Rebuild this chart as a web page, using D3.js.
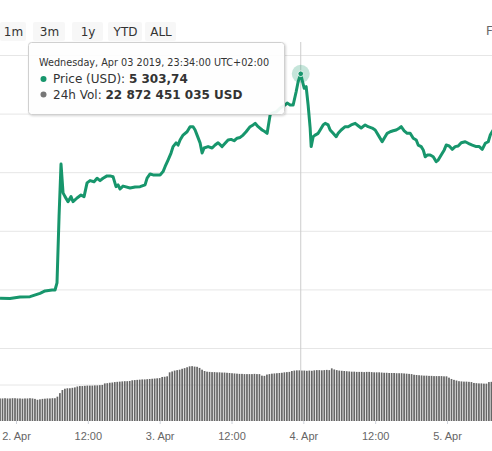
<!DOCTYPE html>
<meta charset="utf-8">
<head>
    <style>
        body { margin: 0; background: #fff; overflow: hidden; }
        svg { display: block; font-family: 'DejaVu Sans', Verdana, sans-serif; }
        .grid line { stroke: #e6e6e6; }
        .grid path { display: none; }
        .xaxis path { display: none; }
        .xaxis line { stroke: #ccd0d8; }
        .xaxis text { fill: #666; font-size: 11px; }
        .btn text { font-size: 12px; fill: #333; }
    </style>
</head>
<body>
    <svg width="492" height="451"></svg>

    <script src="https://d3js.org/d3.v7.min.js"></script>

    <script type="text/javascript">

        var svg = d3.select("svg");
        var width = 492, height = 451;

        // hours after 2 Apr 2019 00:00
        var priceHours = [-2.67, -1.0, 0.67, 2.34, 4.01, 4.85, 6.02, 6.52, 6.85, 7.19, 7.52, 7.86, 8.19, 8.69, 9.19, 9.53,
            10.2, 10.86, 11.37, 11.87, 12.37, 13.04, 13.54, 14.04, 14.54, 15.21, 15.71, 16.21, 16.71, 17.05, 17.38, 17.88,
            18.22, 19.05, 19.89, 20.73, 21.56, 21.9, 22.4, 22.9, 23.57, 24.07, 24.57, 24.9, 25.4, 25.9, 26.24, 26.74,
            27.08, 27.41, 27.91, 28.58, 29.08, 29.58, 29.92, 30.25, 30.75, 31.09, 31.42, 32.09, 32.76, 33.26, 33.76, 34.43,
            34.93, 35.43, 35.93, 36.44, 36.94, 37.44, 37.94, 38.44, 39.11, 39.61, 39.95, 40.45, 41.12, 41.62, 41.95, 42.45,
            42.79, 43.46, 44.13, 44.96, 45.3, 45.8, 46.3, 46.8, 47.13, 47.567, 47.8, 48.14, 48.47, 48.8, 49.14, 49.31,
            49.64, 49.97, 50.48, 50.81, 51.31, 51.65, 52.15, 52.48, 52.98, 53.49, 53.82, 54.32, 54.99, 55.49, 55.99, 56.66,
            57.16, 57.66, 58.33, 58.83, 59.5, 60.0, 60.67, 61.17, 61.51, 62.01, 62.51, 63.01, 63.51, 64.01, 64.35, 64.85,
            65.35, 65.85, 66.36, 66.86, 67.19, 67.69, 68.03, 68.36, 68.7, 69.2, 69.7, 70.2, 70.53, 71.03, 71.54, 71.87,
            72.37, 72.87, 73.37, 73.87, 74.38, 75.05, 75.55, 76.22, 76.89, 77.39, 77.89, 78.39, 78.89, 79.22, 79.72];

        var priceUsd = [4155, 4153, 4161, 4163, 4180, 4192, 4197, 4197, 4233, 4572, 4842, 4694, 4675, 4649, 4675, 4649,
            4668, 4683, 4675, 4745, 4757, 4751, 4769, 4757, 4769, 4781, 4781, 4777, 4726, 4735, 4714, 4729,
            4726, 4719, 4724, 4726, 4735, 4770, 4791, 4786, 4786, 4786, 4803, 4828, 4862, 4898, 4931, 4950,
            4939, 4965, 4990, 5007, 5033, 5033, 5016, 4990, 4950, 4898, 4924, 4931, 4924, 4939, 4951, 4931,
            4948, 4965, 4968, 4961, 4974, 4978, 4990, 5007, 5033, 5042, 5050, 5033, 5016, 5007, 4999, 5093,
            5102, 5108, 5129, 5144, 5154, 5144, 5144, 5212, 5263, 5303.74, 5272, 5230, 5238, 5144, 5026, 4931,
            4982, 4990, 4999, 5016, 5042, 5050, 5042, 5016, 4999, 4982, 4999, 5016, 5033, 5033, 5042, 5050,
            5038, 5026, 5042, 5033, 5026, 5016, 4982, 4956, 4974, 4999, 5007, 5012, 5016, 5025, 5033, 5012,
            4999, 4999, 4974, 4965, 4939, 4931, 4914, 4879, 4888, 4888, 4879, 4854, 4862, 4888, 4914, 4939,
            4934, 4917, 4931, 4934, 4951, 4956, 4948, 4939, 4931, 4931, 4917, 4948, 4956, 4990, 5016];

        // 24h volume, billions USD, one bar every 25 min from 1 Apr 21:20
        var volStepMin = 25;
        var volumeB = [10.2, 10.2, 10.3, 10.2, 10.2, 10.3, 10.3, 10.2, 10.2, 10.1, 10.2, 10.2, 10.3, 10.2, 10.0, 9.6,
            9.8, 10.0, 10.1, 10.2, 10.2, 10.3, 10.3, 11.0, 12.6, 14.0, 14.6, 14.8, 14.8, 15.0, 15.2, 15.6,
            15.8, 15.8, 15.9, 16.0, 16.0, 16.0, 16.1, 16.1, 16.2, 16.3, 17.0, 17.1, 17.3, 17.4, 17.6, 17.7,
            17.8, 17.9, 18.0, 18.0, 18.1, 18.4, 18.5, 18.6, 18.7, 18.8, 18.8, 18.9, 19.0, 19.1, 19.2, 19.3,
            19.4, 19.9, 20.0, 20.2, 22.0, 22.4, 22.8, 23.0, 23.2, 23.6, 23.9, 24.3, 24.7, 24.8, 24.6, 24.5,
            24.0, 23.2, 22.6, 22.3, 22.2, 22.1, 22.1, 22.0, 22.0, 21.9, 21.9, 21.8, 21.7, 21.6, 21.5, 21.4,
            21.3, 21.3, 21.2, 21.2, 21.2, 21.2, 21.3, 21.2, 21.2, 20.5, 20.4, 21.0, 21.2, 21.4, 21.5, 21.6,
            21.7, 21.8, 22.0, 22.1, 22.2, 22.6, 22.8, 22.9, 22.9, 22.8, 22.8, 22.7, 22.8, 22.7, 22.9, 23.0,
            23.0, 22.9, 23.0, 23.1, 23.0, 23.8, 23.3, 23.0, 22.8, 22.7, 22.6, 22.5, 22.4, 22.3, 22.3, 22.2,
            22.2, 22.2, 22.1, 22.2, 22.2, 22.1, 22.0, 22.0, 22.0, 21.9, 21.8, 21.8, 21.7, 21.7, 21.7, 21.6,
            21.6, 21.6, 21.5, 21.4, 21.3, 21.2, 20.9, 20.8, 20.7, 20.6, 20.5, 20.5, 20.4, 20.4, 20.3, 20.3,
            20.3, 20.3, 20.2, 20.2, 19.6, 19.0, 18.6, 18.3, 18.0, 17.9, 17.8, 17.8, 17.7, 17.6, 17.2, 17.1,
            17.0, 17.0, 16.9, 16.9, 17.6, 17.7];

        var priceTicks = [3900, 4200, 4500, 4800, 5100, 5400];
        var volTicks = [0, 16.5, 33];
        var buttons = ["1m", "3m", "1y", "YTD", "ALL"];

        var hover = { hour: 47.567, price: 5303.74, vol: 22.872451035 };

        var day0 = new Date(2019, 3, 2, 0, 0);
        var volStart = new Date(2019, 3, 1, 21, 20);
        function hourDate(h) { return new Date(day0.getTime() + h * 3600000); }

        var x = d3.scaleTime()
            .domain([day0, new Date(2019, 3, 5, 0, 0)])
            .range([16, 447]);

        var y = d3.scaleLinear().domain([3900, 5400]).range([348, 55]);
        var yv = d3.scaleLinear().domain([0, 33]).range([421, 348]);

        // grid lines
        svg.append("g")
            .attr("class", "grid")
            .attr("transform", "translate(" + width + ",0)")
            .call(d3.axisLeft(y).tickValues(priceTicks).tickSize(width).tickFormat(""));

        svg.append("g")
            .attr("class", "grid")
            .attr("transform", "translate(" + width + ",0)")
            .call(d3.axisLeft(yv).tickValues(volTicks.slice(1)).tickSize(width).tickFormat(""));

        // volume bars
        svg.append("g")
            .selectAll("rect")
            .data(volumeB)
            .enter().append("rect")
            .attr("x", function (d, i) { return x(d3.timeMinute.offset(volStart, i * volStepMin)) - 0.85; })
            .attr("y", function (d) { return yv(d); })
            .attr("width", 1.7)
            .attr("height", function (d) { return yv(0) - yv(d); })
            .attr("fill", "#666666");

        // x axis
        var fmtDay = d3.timeFormat("%-d. %b"), fmtHour = d3.timeFormat("%H:%M");
        svg.append("g")
            .attr("class", "xaxis")
            .attr("transform", "translate(0,421)")
            .call(d3.axisBottom(x)
                .ticks(d3.timeHour.every(12))
                .tickSize(3)
                .tickPadding(8)
                .tickFormat(function (d) { return d.getHours() === 0 ? fmtDay(d) : fmtHour(d); }));

        // crosshair
        var hx = x(hourDate(hover.hour));
        svg.append("line")
            .attr("x1", hx).attr("x2", hx)
            .attr("y1", 42).attr("y2", 421)
            .attr("stroke", "#cccccc")
            .attr("stroke-width", 1);

        // price line
        var line = d3.line()
            .x(function (d, i) { return x(hourDate(priceHours[i])); })
            .y(function (d) { return y(d); });

        svg.append("path")
            .datum(priceUsd)
            .attr("d", line)
            .attr("fill", "none")
            .attr("stroke", "#17966c")
            .attr("stroke-width", 3)
            .attr("stroke-linejoin", "round");

        // hovered point
        var hy = y(hover.price);
        svg.append("circle").attr("cx", hx).attr("cy", hy).attr("r", 9)
            .attr("fill", "#17966c").attr("opacity", 0.25);
        svg.append("circle").attr("cx", hx).attr("cy", hy).attr("r", 2.8)
            .attr("fill", "#17966c").attr("stroke", "#fff").attr("stroke-width", 0.8);

        // range buttons
        var btnX = [0, 33, 72, 108, 145], btnW = [26, 32, 31, 34, 31];
        var btn = svg.append("g").attr("class", "btn")
            .selectAll("g").data(buttons).enter().append("g");
        btn.append("rect")
            .attr("x", function (d, i) { return btnX[i]; })
            .attr("y", 22).attr("width", function (d, i) { return btnW[i]; })
            .attr("height", 19).attr("rx", 2)
            .attr("fill", "#f7f7f7");
        btn.append("text")
            .attr("x", function (d, i) { return i === 0 ? 13.5 : btnX[i] + btnW[i] / 2 + 0.5; })
            .attr("y", 35.5)
            .attr("text-anchor", "middle")
            .text(function (d) { return d; });

        // "From" label, cut by the right edge as in the screenshot
        svg.append("text")
            .attr("x", 486).attr("y", 35)
            .attr("font-size", 12).attr("fill", "#666")
            .text("From");

        // tooltip
        var defs = svg.append("defs");
        var f = defs.append("filter").attr("id", "sh").attr("x", "-10%").attr("y", "-10%")
            .attr("width", "130%").attr("height", "140%");
        f.append("feDropShadow").attr("dx", 1).attr("dy", 1).attr("stdDeviation", 1.2)
            .attr("flood-color", "#000").attr("flood-opacity", 0.18);

        var tip = svg.append("g");
        tip.append("rect")
            .attr("x", 28.5).attr("y", 42.5).attr("width", 256).attr("height", 72).attr("rx", 3)
            .attr("fill", "rgba(255,255,255,0.92)")
            .attr("stroke", "#d0d0d0")
            .attr("filter", "url(#sh)");
        tip.append("text")
            .attr("x", 39).attr("y", 66)
            .attr("font-size", 9.7).attr("fill", "#333")
            .text("Wednesday, Apr 03 2019, 23:34:00 UTC+02:00");

        var rows = [
            { label: "Price (USD): ", value: "5 303,74", color: "#17966c", y: 83 },
            { label: "24h Vol: ", value: "22 872 451 035 USD", color: "#777777", y: 98.5 }
        ];
        rows.forEach(function (r) {
            tip.append("circle").attr("cx", 43.5).attr("cy", r.y - 4).attr("r", 3).attr("fill", r.color);
            var t = tip.append("text").attr("x", 53).attr("y", r.y).attr("font-size", 12).attr("fill", "#333");
            t.append("tspan").text(r.label);
            t.append("tspan").attr("font-weight", "bold").text(r.value);
        });

    </script>
</body>
